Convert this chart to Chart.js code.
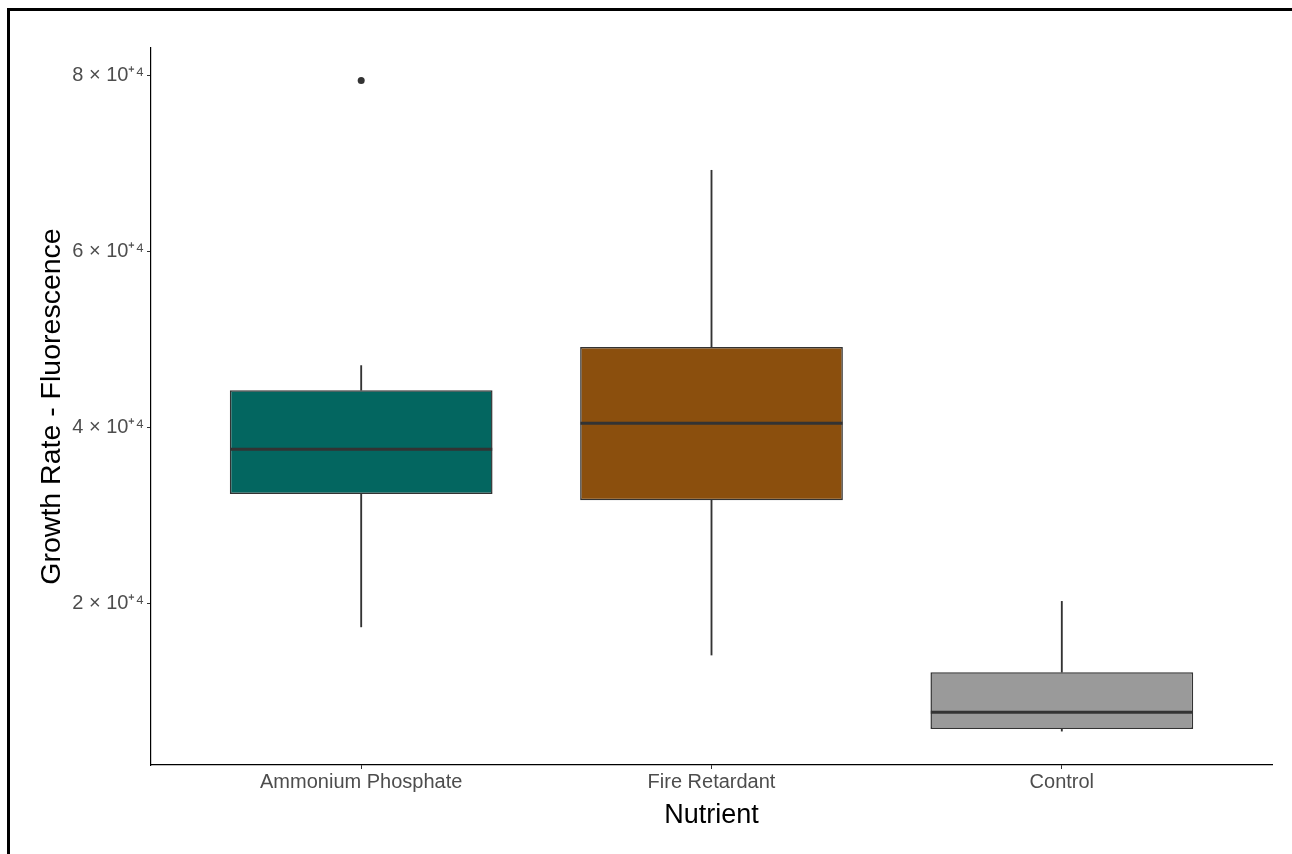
<!DOCTYPE html>
<html>
<head>
<meta charset="utf-8">
<script src="https://cdn.jsdelivr.net/npm/chart.js@4.4.1/dist/chart.umd.min.js"></script>
<style>
  html, body { margin: 0; padding: 0; background: #fff; }
  #wrap { position: relative; width: 1292px; height: 854px; overflow: hidden; }
  #frame { position: absolute; left: 7px; top: 8px; width: 1400px; height: 1000px;
           border-top: 3px solid #000; border-left: 3px solid #000; pointer-events: none; }
  canvas { position: absolute; left: 0; top: 0; }
</style>
</head>
<body>
<div id="wrap">
  <canvas id="boxChart" width="1292" height="854"></canvas>
  <div id="frame"></div>
</div>
<script>
// Box plot data
const categories = ['Ammonium Phosphate', 'Fire Retardant', 'Control'];
const whiskerLow = [17300, 14100, 5450];
const q1 = [32400, 31700, 5700];
const median = [37500, 40450, 7600];
const q3 = [44200, 49100, 12150];
const whiskerHigh = [47000, 69200, 20200];
const outliers = [{ cat: 0, value: 79400 }];
const yTicks = [20000, 40000, 60000, 80000];

const fills = ['#036660', '#8B4F0D', '#9A9A9A'];
const dark = '#333333';
const font = 'Liberation Sans, Arial, sans-serif';

function pos(i) { return i + 1; }

function initBoxChart() {
  const ctx = document.getElementById('boxChart').getContext('2d');
  return new Chart(ctx, {
    type: 'bar',
    data: {
      datasets: [
        {
          label: 'outliers',
          type: 'scatter',
          order: 0,
          data: outliers.map(o => ({ x: pos(o.cat), y: o.value })),
          pointRadius: 3.5,
          backgroundColor: dark,
          borderColor: dark,
          borderWidth: 0
        },
        {
          label: 'median',
          type: 'scatter',
          order: 1,
          data: median.map((m, i) => ({ x: pos(i), y: m })),
          pointStyle: 'line',
          pointRadius: 131,
          borderColor: dark,
          borderWidth: 3
        },
        {
          label: 'box',
          order: 2,
          grouped: false,
          data: q1.map((v, i) => ({ x: pos(i), y: [v, q3[i]] })),
          backgroundColor: fills,
          borderColor: dark,
          borderWidth: 1.5,
          borderSkipped: false,
          categoryPercentage: 1,
          barPercentage: 0.75
        },
        {
          label: 'upper whisker',
          order: 3,
          grouped: false,
          data: q3.map((v, i) => ({ x: pos(i), y: [v, whiskerHigh[i]] })),
          backgroundColor: dark,
          borderWidth: 0,
          barThickness: 1.2
        },
        {
          label: 'lower whisker',
          order: 3,
          grouped: false,
          data: whiskerLow.map((v, i) => ({ x: pos(i), y: [v, q1[i]] })),
          backgroundColor: dark,
          borderWidth: 0,
          barThickness: 1.2
        }
      ]
    },
    options: {
      responsive: false,
      animation: false,
      layout: { autoPadding: false, padding: { top: 48, right: 20, left: 0, bottom: 0 } },
      plugins: {
        legend: { display: false },
        tooltip: { enabled: false }
      },
      scales: {
        x: {
          type: 'linear',
          min: 0.4,
          max: 3.6,
          offset: false,
          afterBuildTicks: s => { s.ticks = categories.map((c, i) => ({ value: pos(i) })); },
          afterFit: s => { s.height = 89; },
          grid: { offset: false, drawOnChartArea: false, drawTicks: true, tickLength: 4, color: dark },
          border: { display: true, color: '#000', width: 1.2 },
          ticks: {
            callback: v => categories[Math.round(v) - 1],
            color: '#4D4D4D',
            font: { family: font, size: 20 },
            padding: 1,
            maxRotation: 0
          },
          title: {
            display: true,
            text: 'Nutrient',
            color: '#000',
            font: { family: font, size: 27 },
            padding: { top: 0, bottom: 22 }
          }
        },
        y: {
          min: 1600,
          max: 83100,
          afterBuildTicks: s => { s.ticks = yTicks.map(v => ({ value: v })); },
          afterFit: s => { s.width = 151; },
          grid: { drawOnChartArea: false, drawTicks: true, tickLength: 4, color: dark },
          border: { display: true, color: '#000', width: 1.2 },
          ticks: {
            callback: v => (v / 10000) + ' \u00d7 10\u207a\u2074',
            color: '#4D4D4D',
            font: { family: font, size: 20 },
            padding: 3
          },
          title: {
            display: true,
            text: 'Growth Rate - Fluorescence',
            color: '#000',
            font: { family: font, size: 28.5 },
            padding: { top: 35, bottom: 0 }
          }
        }
      }
    }
  });
}

initBoxChart();
</script>
</body>
</html>
